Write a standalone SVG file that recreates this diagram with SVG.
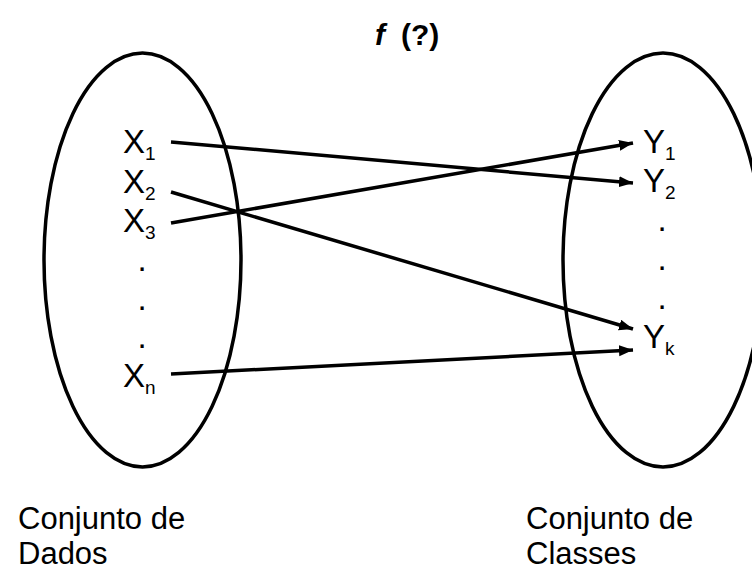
<svg xmlns="http://www.w3.org/2000/svg" width="752" height="572" viewBox="0 0 752 572">
<style>
.set{fill:none;stroke:#000;stroke-width:3.5}
.lbl{font-family:"Liberation Sans",Arial,sans-serif;font-size:33px;fill:#000}
.sub{font-size:19px}
.cap{font-family:"Liberation Sans",Arial,sans-serif;font-size:31px;fill:#000}
.title{font-family:"Liberation Sans",Arial,sans-serif;font-size:30px;font-weight:bold;fill:#000}
.edge{stroke:#000;stroke-width:3.5;fill:none}
</style>
<defs>
<marker id="arrow" markerUnits="userSpaceOnUse" markerWidth="16" markerHeight="12" refX="14" refY="5.5" orient="auto">
<path d="M0,0 L14,5.5 L0,11 z" fill="#000"/>
</marker>
</defs>
<rect width="752" height="572" fill="#fff"/>
<g id="title">
<text class="title" x="375" y="45"><tspan font-style="italic">f</tspan><tspan x="401">(?)</tspan></text>
</g>
<g id="dados">
<ellipse class="set" cx="142.5" cy="260" rx="98.5" ry="207"/>
<text class="cap" x="18" y="529">Conjunto de</text>
<text class="cap" x="18" y="564">Dados</text>
</g>
<g id="classes">
<ellipse class="set" cx="663" cy="260" rx="100" ry="207"/>
<text class="cap" x="526" y="529">Conjunto de</text>
<text class="cap" x="526" y="564">Classes</text>
</g>
<g id="x1"><text class="lbl" x="123" y="153">X<tspan class="sub" dy="7">1</tspan></text></g>
<g id="x2"><text class="lbl" x="123" y="193">X<tspan class="sub" dy="7">2</tspan></text></g>
<g id="x3"><text class="lbl" x="123" y="232">X<tspan class="sub" dy="7">3</tspan></text></g>
<g id="xdots">
<text class="lbl" x="142" y="271" text-anchor="middle">.</text>
<text class="lbl" x="142" y="310" text-anchor="middle">.</text>
<text class="lbl" x="142" y="348" text-anchor="middle">.</text>
</g>
<g id="xn"><text class="lbl" x="123" y="387">X<tspan class="sub" dy="7">n</tspan></text></g>
<g id="y1"><text class="lbl" x="643" y="153">Y<tspan class="sub" dy="7">1</tspan></text></g>
<g id="y2"><text class="lbl" x="643" y="192">Y<tspan class="sub" dy="7">2</tspan></text></g>
<g id="ydots">
<text class="lbl" x="662" y="231" text-anchor="middle">.</text>
<text class="lbl" x="662" y="270" text-anchor="middle">.</text>
<text class="lbl" x="662" y="309" text-anchor="middle">.</text>
</g>
<g id="yk"><text class="lbl" x="643" y="348">Y<tspan class="sub" dy="7">k</tspan></text></g>
<g id="connectors">
<line class="edge" x1="171" y1="142" x2="633" y2="183" marker-end="url(#arrow)"/>
<line class="edge" x1="171" y1="192" x2="633" y2="329" marker-end="url(#arrow)"/>
<line class="edge" x1="171" y1="223" x2="633" y2="143" marker-end="url(#arrow)"/>
<line class="edge" x1="171" y1="374" x2="633" y2="350" marker-end="url(#arrow)"/>
</g>
</svg>
